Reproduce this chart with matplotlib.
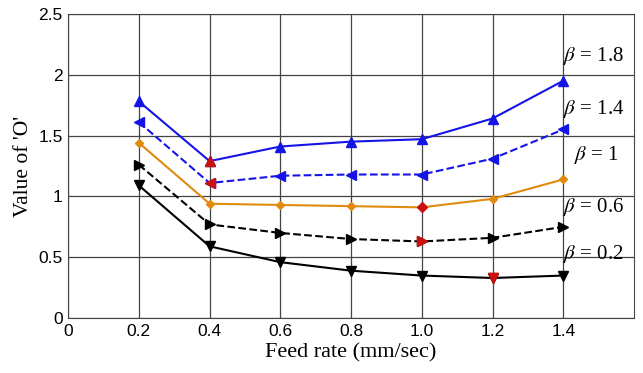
import matplotlib.pyplot as plt

plt.rcParams['mathtext.fontset'] = 'stix'

feed = [0.2, 0.4, 0.6, 0.8, 1.0, 1.2, 1.4]

o_b18 = [1.78, 1.29, 1.41, 1.45, 1.47, 1.64, 1.95]
o_b14 = [1.61, 1.11, 1.17, 1.18, 1.18, 1.31, 1.55]
o_b10 = [1.44, 0.94, 0.93, 0.92, 0.91, 0.98, 1.14]
o_b06 = [1.26, 0.77, 0.70, 0.65, 0.63, 0.66, 0.75]
o_b02 = [1.09, 0.59, 0.46, 0.39, 0.35, 0.33, 0.35]

labels = ["1.8", "1.4", "1", "0.6", "0.2"]
xticks = ["0", "0.2", "0.4", "0.6", "0.8", "1.0", "1.2", "1.4"]
yticks = ["0", "0.5", "1", "1.5", "2", "2.5"]

series = [o_b18, o_b14, o_b10, o_b06, o_b02]
colors = ['#1414e6', '#1414e6', '#e08a10', 'black', 'black']
styles = ['-', '--', '-', '--', '-']
markers = ['^', '<', 'D', '>', 'v']
msizes = [6.5, 6.5, 4.5, 6.5, 6.5]

fig = plt.figure(figsize=(6.43, 3.73), dpi=100)
ax = fig.add_axes([0.106, 0.147, 0.880, 0.816])

for s, c, ls, m, ms in zip(series, colors, styles, markers, msizes):
    ax.plot(feed, s, color=c, linestyle=ls, lw=1.5, marker=m, ms=ms, zorder=3)
    # minimum point highlighted in red
    i = s.index(min(s))
    ax.plot(feed[i], s[i], linestyle='none', marker=m, ms=ms + 1, color='#cc1010', zorder=4)

label_y = [2.15, 1.72, 1.34, 0.91, 0.53]
for lab, yy in zip(labels, label_y):
    x0 = 1.40 if lab != "1" else 1.43
    ax.text(x0, yy, r"$\beta$ = " + lab, fontsize=15, family='Liberation Serif', va='center')

ax.set_xlim(0, 1.6)
ax.set_ylim(0, 2.5)
ax.set_xticks([0, 0.2, 0.4, 0.6, 0.8, 1.0, 1.2, 1.4])
ax.set_xticklabels(xticks, family='Liberation Sans', fontsize=12.5)
ax.set_yticks([0, 0.5, 1, 1.5, 2, 2.5])
ax.set_yticklabels(yticks, family='Liberation Sans', fontsize=12.5)
ax.tick_params(length=0, pad=4)
ax.grid(color='#444444', lw=0.9)
for sp in ax.spines.values():
    sp.set_color('#444444')
ax.set_xlabel("Feed rate (mm/sec)", family='Liberation Serif', fontsize=16, labelpad=3)
ax.set_ylabel("Value of 'O'", family='Liberation Serif', fontsize=15.5, labelpad=4)

plt.savefig("out.png", dpi=100)
